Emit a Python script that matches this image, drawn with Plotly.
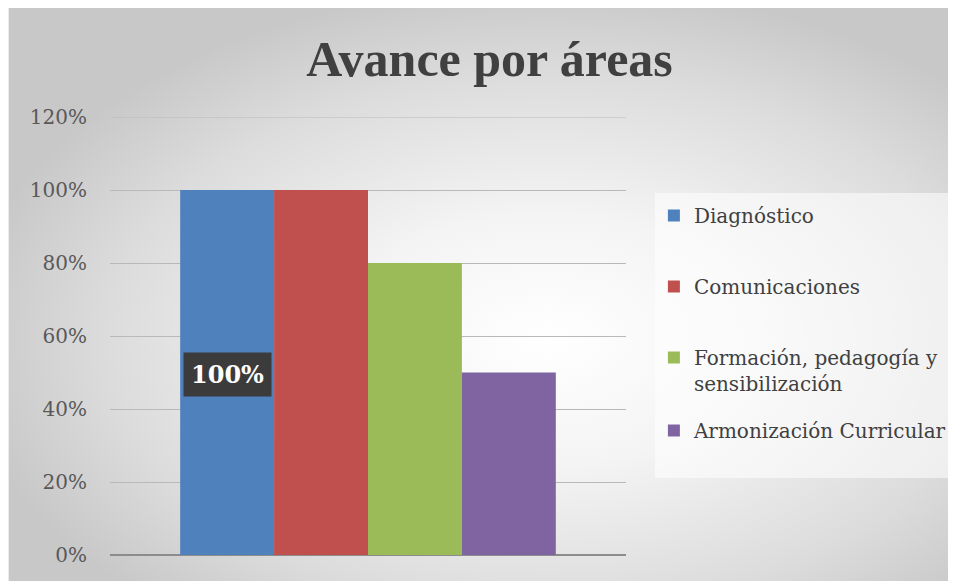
import base64
import plotly.graph_objects as go

# ---- data ----
categories = ["Avance por áreas"]
series_names = ["Diagnóstico", "Comunicaciones", "Formación, pedagogía y<br>sensibilización", "Armonización Curricular"]
series_values = [1.00, 1.00, 0.80, 0.50]
series_colors = ["#4f81bd", "#c0504d", "#9bbb59", "#8064a2"]
series_legend = ["legend", "legend", "legend", "legend2"]
y_tick_vals = [0, 0.2, 0.4, 0.6, 0.8, 1.0, 1.2]
y_tick_text = ["0%", "20%", "40%", "60%", "80%", "100%", "120%"]
label_series_index = 0
label_text = "100%"

OFF = 8  # page body margin
W, H = 956, 581
L, R, T, B = 110 - OFF, 628 - OFF, 117 - OFF, 555 - OFF
pw, ph = R - L, B - T
BARGAP = 0.272

def px_x(px):
    return (px - OFF - L) / pw

def px_y(py):
    return (B - (py - OFF)) / ph

fig = go.Figure()
for i, (name, val, col, lg) in enumerate(zip(series_names, series_values, series_colors, series_legend)):
    fig.add_trace(go.Bar(
        x=categories, y=[val], name=name, marker=dict(color=col, line=dict(width=0)),
        legendgroup=f"g{i}", legend=lg, hoverinfo="skip",
    ))

# background radial gradient as an svg image
svg = f"""<svg xmlns='http://www.w3.org/2000/svg' width='{W}' height='{H}' preserveAspectRatio='none'>
<defs><radialGradient id='g' cx='57%' cy='58%' r='62%' gradientUnits='objectBoundingBox'>
<stop offset='0' stop-color='#ffffff'/>
<stop offset='0.35' stop-color='#f4f4f4'/>
<stop offset='0.75' stop-color='#dcdcdc'/>
<stop offset='1' stop-color='#c8c8c8'/>
</radialGradient></defs>
<rect x='0' y='0' width='100%' height='100%' fill='url(#g)'/></svg>"""
src = "data:image/svg+xml;base64," + base64.b64encode(svg.encode()).decode()
fig.add_layout_image(dict(
    source=src, xref="paper", yref="paper",
    x=-L / pw, y=B / ph, sizex=(W - OFF) / pw, sizey=(H - OFF) / ph,
    xanchor="left", yanchor="top", sizing="stretch", layer="below",
))

# legend background box
fig.add_shape(type="rect", xref="paper", yref="paper",
              x0=px_x(657), x1=px_x(960), y0=px_y(478), y1=px_y(193),
              fillcolor="rgba(255,255,255,0.55)", line=dict(width=0), layer="below")

# top gridline (range edge)
fig.add_hline(y=y_tick_vals[-1], line=dict(color="#b9b9b9", width=1), layer="below")

# data label on first bar
n = len(series_values)
bw = (1 - BARGAP) / n
xc = -(1 - BARGAP) / 2 + bw * (label_series_index + 0.5)
fig.add_annotation(
    x=xc, y=series_values[label_series_index] * 0.495, xref="x", yref="y",
    text=f"<b>{label_text}</b>", showarrow=False,
    font=dict(family="DejaVu Serif", size=24, color="#ffffff"),
    bgcolor="#3b3b3b", borderpad=7, xanchor="center", yanchor="middle",
)

leg_font = dict(family="DejaVu Serif", size=20, color="#404040")
fig.update_layout(
    width=W, height=H,
    margin=dict(l=L, r=W - R, t=T, b=H - B, pad=0),
    paper_bgcolor="#ffffff", plot_bgcolor="rgba(0,0,0,0)",
    barmode="group", bargap=BARGAP, bargroupgap=0,
    title=dict(text="<b>Avance por áreas</b>", x=(489.5 - OFF) / W, xref="container", xanchor="center",
               y=1 - (58 - OFF) / H, yanchor="middle",
               font=dict(family="Liberation Serif", size=50, color="#404040")),
    legend=dict(x=px_x(656), y=px_y(196), xanchor="left", yanchor="top",
                bgcolor="rgba(0,0,0,0)", tracegroupgap=42, valign="top",
                font=leg_font, itemwidth=30, traceorder="grouped"),
    legend2=dict(x=px_x(656), y=px_y(411), xanchor="left", yanchor="top",
                 bgcolor="rgba(0,0,0,0)", valign="top",
                 font=leg_font, itemwidth=30, traceorder="grouped"),
    showlegend=True,
    font=dict(family="DejaVu Serif", color="#595959"),
)
fig.update_xaxes(showticklabels=False, showgrid=False, zeroline=False, showline=False,
                 range=[-0.5, 0.5])
fig.update_yaxes(range=[0, 1.2], tickvals=y_tick_vals, ticktext=y_tick_text,
                 showgrid=True, gridcolor="#b9b9b9", gridwidth=1,
                 zeroline=True, zerolinecolor="#8c8c8c", zerolinewidth=1.5,
                 showline=False, ticklabelstandoff=22,
                 tickfont=dict(family="DejaVu Serif", size=20, color="#595959"))

fig.write_html("out.html")
